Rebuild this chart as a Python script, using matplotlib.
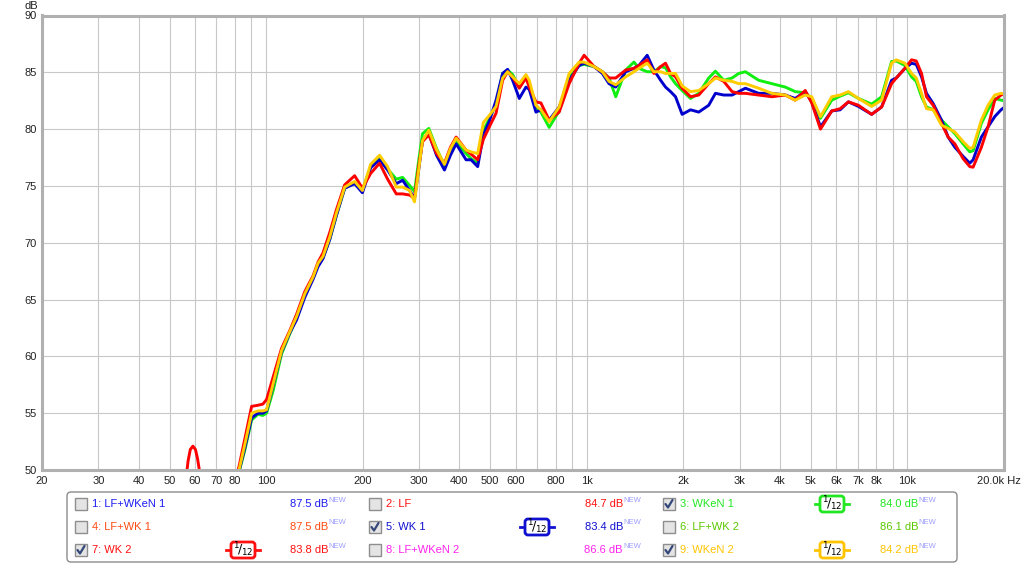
import matplotlib.pyplot as plt
from matplotlib.patches import Rectangle, FancyBboxPatch

plt.rcParams['font.family'] = ['Liberation Sans', 'DejaVu Sans']

# frequency points (Hz), shared by all traces
freq_hz = [50, 56.1, 57.1, 58.0, 59.1, 60.2, 61.1, 61.9, 64.5, 74.4, 82.3, 85.9, 90.1, 94.3, 97.7, 100.3,
           105.2, 111.7, 118.6, 124.4, 132.0, 140.1, 145.2, 150.4, 157.9, 165.6, 175.8, 188.8, 199.6,
           211.8, 225.8, 239.2, 254.6, 266.4, 280.1, 290.2, 299.3, 307.4, 321.6, 339.9, 359.8, 375.6,
           391.3, 420.3, 435.6, 456.8, 475.9, 496.6,
           521.2, 546.4, 566.3, 587.0, 615.8, 646.0, 661.4, 694.0, 719.3, 763.2, 820.0, 881.0, 946.4, 980.8, 1054,
           1118, 1173, 1231, 1322, 1403, 1454, 1543, 1619, 1699, 1760, 1825, 1891, 1983,
           2106, 2234, 2400, 2518, 2674, 2838, 2977, 3123, 3435, 3778, 4158, 4467, 4798, 5030,
           5354, 5806, 6166, 6544, 7030, 7732, 8307, 8922, 9227, 9820, 10298, 10650,
           11062, 11464, 12028, 12765, 13394, 14054, 14912, 15644, 16020, 17000, 17836, 18714, 19576, 20000]

# 7: WK 2 (red)
wk2_db = [44, 49.0, 50.8, 51.8, 52.1, 51.8, 51.0, 50.0, 46.5, 46, 50.3, 52.8, 55.6, 55.7, 55.8, 56.2,
          58.2, 60.7, 62.3, 63.7, 65.7, 67.1, 68.3, 69.1, 70.9, 72.9, 75.1, 75.9, 74.8,
          76.1, 77.0, 75.6, 74.3, 74.3, 74.2, 73.9, 76.8, 78.9, 79.5, 77.85, 77.0, 78.4,
          79.3, 78.15, 77.8, 77.3, 79.1, 80.2,
          81.4, 84.3, 85.05, 84.6, 83.6, 84.5, 83.7, 82.4, 82.3, 80.8, 81.5, 84.0, 85.8, 86.5, 85.5,
          85.05, 84.5, 84.5, 85.2, 85.35, 85.6, 86.1, 84.9, 85.5, 85.8, 84.9, 84.6, 83.6,
          82.85, 83.0, 84.0, 84.6, 84.2, 83.3, 83.15, 83.15, 83.0, 82.85, 83.0, 82.55, 83.4, 82.3,
          80.0, 81.6, 81.8, 82.4, 82.1, 81.3, 81.95, 84.0, 84.5, 85.35, 86.1, 86.0,
          84.9, 82.85, 82.1, 80.5, 79.3, 78.7, 77.4, 76.7, 76.65, 78.4, 80.2, 82.55, 83.0, 83.1]

# 5: WK 1 (blue)
wk1_db = [44, 44, 44, 44, 44, 44, 44, 44, 44, 46, 49.9, 52.0, 54.6, 55.0, 55.0, 55.2,
          57.5, 60.4, 62.1, 63.2, 65.2, 66.8, 67.9, 68.6, 70.3, 72.4, 74.8, 75.2, 74.4,
          76.6, 77.3, 76.4, 75.2, 75.5, 74.6, 73.9, 76.5, 79.0, 79.6, 77.7, 76.4, 77.7,
          78.7, 77.3, 77.3, 76.7, 79.5, 80.7,
          82.55, 84.9, 85.26, 84.3, 82.7, 83.7, 83.5, 81.5, 81.7, 80.8, 81.95, 84.3, 85.6, 85.8, 85.5,
          84.9, 84.0, 83.7, 85.05, 85.35, 85.6, 86.5, 85.2, 84.3, 83.7, 83.3, 82.85, 81.3,
          81.7, 81.5, 82.1, 83.15, 83.0, 83.0, 83.3, 83.6, 83.15, 83.15, 83.0, 82.7, 83.3, 82.4,
          80.2, 81.6, 81.7, 82.4, 82.0, 81.3, 81.95, 84.3, 84.5, 85.35, 85.8, 85.7,
          84.6, 83.15, 82.25, 80.8, 79.3, 78.4, 77.6, 77.0, 77.3, 79.3, 80.2, 81.1, 81.7, 81.9]

# 3: WKeN 1 (green)
wken1_db = [44, 44, 44, 44, 44, 44, 44, 44, 44, 46, 49.8, 51.8, 54.4, 54.9, 54.8, 55.0,
            57.0, 60.2, 62.0, 63.4, 65.4, 66.9, 68.1, 68.7, 70.3, 72.4, 74.8, 75.3, 74.6,
            76.7, 77.5, 76.5, 75.6, 75.75, 75.05, 74.5, 77.3, 79.6, 80.06, 78.3, 76.8, 78.1,
            78.9, 77.85, 77.4, 77.0, 79.9, 80.9,
            82.2, 84.9, 85.2, 84.8, 83.7, 84.6, 84.0, 81.95, 81.5, 80.15, 81.6, 84.6, 85.6, 85.7, 85.5,
            85.05, 84.5, 82.85, 85.2, 85.9, 85.35, 85.05, 85.05, 85.5, 85.4, 84.6, 84.0, 83.4,
            82.7, 83.15, 84.5, 85.1, 84.3, 84.5, 84.9, 85.05, 84.3, 84.0, 83.7, 83.3, 83.2, 82.7,
            80.95, 82.55, 82.9, 83.2, 82.7, 82.2, 82.85, 85.95, 86.0, 85.6, 84.6, 84.2,
            82.85, 81.95, 81.7, 80.8, 80.2, 79.6, 78.7, 78.0, 78.1, 80.5, 81.7, 82.7, 82.55, 82.5]

# 9: WKeN 2 (yellow)
wken2_db = [44, 44, 44, 44, 44, 44, 44, 44, 44, 46, 50.0, 52.3, 55.0, 55.2, 55.2, 55.3,
            57.6, 60.5, 62.2, 63.5, 65.5, 67.0, 68.2, 68.8, 70.5, 72.6, 74.9, 75.4, 74.6,
            76.9, 77.7, 76.7, 74.9, 74.9, 74.6, 73.6, 76.5, 79.0, 79.9, 78.2, 76.9, 78.3,
            79.2, 78.15, 78.0, 77.85, 80.6, 81.2,
            82.0, 84.5, 85.05, 84.6, 84.0, 84.8, 84.3, 82.1, 81.7, 80.65, 81.95, 84.9, 85.9, 85.9, 85.5,
            85.05, 84.2, 83.9, 84.6, 85.05, 85.35, 85.8, 85.05, 85.05, 84.9, 84.9, 84.9, 83.8,
            83.3, 83.4, 84.0, 84.5, 84.3, 84.2, 84.0, 84.0, 83.6, 83.15, 83.0, 82.55, 83.0, 82.85,
            81.1, 82.85, 83.0, 83.3, 82.7, 82.0, 82.55, 85.8, 86.1, 85.8, 84.9, 84.5,
            83.15, 81.8, 81.7, 80.35, 80.06, 79.75, 78.9, 78.3, 78.4, 80.8, 82.1, 83.0, 83.15, 83.1]

# legend entries, row by row
leg_names = ['1: LF+WKeN 1', '2: LF', '3: WKeN 1',
             '4: LF+WK 1', '5: WK 1', '6: LF+WK 2',
             '7: WK 2', '8: LF+WKeN 2', '9: WKeN 2']
leg_values = ['87.5 dB', '84.7 dB', '84.0 dB',
              '87.5 dB', '83.4 dB', '86.1 dB',
              '83.8 dB', '86.6 dB', '84.2 dB']
leg_checked = [False, False, True, False, True, False, True, False, True]
leg_colors = ['#1c1cf0', '#ff1010', '#22e622',
              '#ff4a10', '#1010d0', '#5cc800',
              '#ff1010', '#ff22ee', '#ffc400']

x_ticks = [20, 30, 40, 50, 60, 70, 80, 90, 100, 200, 300, 400, 500, 600, 700, 800, 900,
           1000, 2000, 3000, 4000, 5000, 6000, 7000, 8000, 9000, 10000, 20000]
x_labels = ['20', '30', '40', '50', '60', '70', '80', '', '100', '200', '300', '400', '500', '600', '',
            '800', '', '1k', '2k', '3k', '4k', '5k', '6k', '7k', '8k', '', '10k', '']

W, H = 1024, 565
fig = plt.figure(figsize=(W / 100, H / 100), dpi=100)
ax = fig.add_axes([42 / W, 1 - 470 / H, (1004 - 42) / W, 454.5 / H])

line_kw = dict(lw=2.1, solid_joinstyle='round', solid_capstyle='round')
ax.plot(freq_hz, wken1_db, color='#11ee11', **line_kw)
ax.plot(freq_hz, wk1_db, color='#0000cc', **line_kw)
ax.plot(freq_hz, wk2_db, color='#ff0000', **line_kw)
ax.plot(freq_hz, wken2_db, color='#ffcc00', **line_kw)

ax.set_xscale('log')
ax.set_xlim(20, 20000)
ax.set_ylim(50, 90)
ax.set_xticks(x_ticks)
ax.set_xticklabels(x_labels)
ax.xaxis.set_minor_locator(plt.NullLocator())
ax.set_yticks(range(50, 91, 5))
ax.tick_params(length=0, labelsize=8, colors='#222222', pad=4)
ax.grid(True, color='#c8c8c8', lw=0.8)
ax.set_axisbelow(True)
for s in ax.spines.values():
    s.set_color('#b0b0b0')
    s.set_linewidth(2.2)

# overlay in pixel coordinates for the axis notes and the legend panel
lax = fig.add_axes([0, 0, 1, 1])
lax.set_xlim(0, W)
lax.set_ylim(H, 0)
lax.axis('off')
lax.text(31, 6, 'dB', fontsize=8, ha='center', va='center', color='#222222')
lax.text(1021, 481, '20.0k Hz', fontsize=8, ha='right', va='center', color='#222222')

lax.add_patch(FancyBboxPatch((67, 492), 890, 70, boxstyle='round,pad=0,rounding_size=4',
                             fc='white', ec='#8c8c8c', lw=1))

col_box = [75, 369, 663]
col_badge = [226, 520, 815]
col_val = [328, 623, 918]
row_y = [504, 527, 550]

for i, name in enumerate(leg_names):
    r, c = divmod(i, 3)
    y = row_y[r]
    col = leg_colors[i]
    bx = col_box[c]
    lax.add_patch(Rectangle((bx, y - 6), 12, 12, fc='#e4e4e4', ec='#8e8e8e', lw=1))
    if leg_checked[i]:
        lax.plot([bx + 2.5, bx + 5, bx + 9.5], [y, y + 3.5, y - 4], color='#34487a', lw=1.6,
                 solid_capstyle='round')
        cx = col_badge[c] + 17
        lax.plot([cx - 17, cx + 17], [y, y], color=col, lw=2)
        lax.add_patch(FancyBboxPatch((cx - 12, y - 8), 24, 16,
                                     boxstyle='round,pad=0,rounding_size=3',
                                     fc='white', ec=col, lw=2, zorder=3))
        lax.text(cx, y, r'$^{1}\!/_{12}$', fontsize=9, ha='center', va='center',
                 color='black', zorder=4)
    lax.text(bx + 17, y, name, fontsize=8, ha='left', va='center', color=col)
    lax.text(col_val[c], y, leg_values[i], fontsize=8, ha='right', va='center', color=col)
    lax.text(col_val[c] + 0.5, y - 4, 'NEW', fontsize=5.5, ha='left', va='center', color='#9c9cff')

fig.savefig('out.png', dpi=100)
